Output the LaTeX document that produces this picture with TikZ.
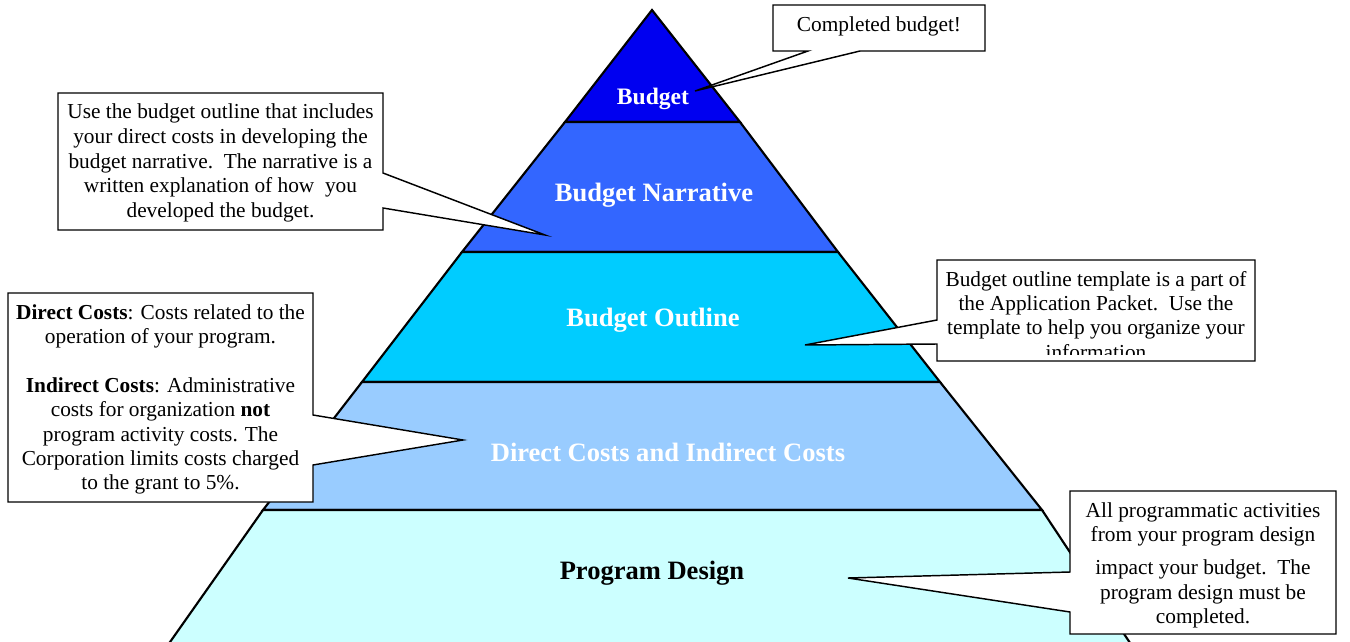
\documentclass[tikz,border=0pt]{standalone}
\usepackage{fontspec}
\setmainfont{Liberation Serif}
\definecolor{layA}{RGB}{0,0,240}
\definecolor{layB}{RGB}{51,102,255}
\definecolor{layC}{RGB}{0,204,255}
\definecolor{layD}{RGB}{153,204,255}
\definecolor{layE}{RGB}{204,255,255}
\begin{document}
\begin{tikzpicture}[x=0.75pt,y=-0.75pt,
  layer/.style={draw=black,line width=1.6pt,line join=miter},
  callout/.style={draw=black,fill=white,line width=1.1pt,line join=miter},
  lbl/.style={font=\fontsize{19.9}{24}\selectfont\bfseries,text=white,inner sep=0pt},
  note/.style={font=\fontsize{16}{18.4}\selectfont,align=center,inner sep=0pt}]
\useasboundingbox (0,0) rectangle (1350,642);
\clip (0,0) rectangle (1350,642);
% pyramid layers
\filldraw[layer,fill=layA] (652,10) -- (740,122) -- (565,122) -- cycle;
\filldraw[layer,fill=layB] (565,122) -- (740,122) -- (838,252) -- (462,252) -- cycle;
\filldraw[layer,fill=layC] (462,252) -- (838,252) -- (940,382) -- (362,382) -- cycle;
\filldraw[layer,fill=layD] (362,382) -- (940,382) -- (1042,510) -- (263,510) -- cycle;
\filldraw[layer,fill=layE] (263,510) -- (1042,510) -- (1136,652) -- (163,652) -- cycle;
% layer labels
\node[lbl,font=\fontsize{17.7}{21}\selectfont\bfseries] (lbudget) at (653,99) {Budget};
\node[lbl] (lnarr) at (654,195) {Budget Narrative};
\node[lbl] (loutl) at (653,320) {Budget Outline};
\node[lbl] (ldirect) at (668,452) {Direct Costs and Indirect Costs};
\node[lbl,text=black] (lprog) at (652,573) {Program Design};
% callout 1
\draw[callout] (773,5) -- (985,5) -- (985,51) -- (860,51) -- (695,91) -- (808,51) -- (773,51) -- cycle;
\node[note,anchor=base] (n1) at (879,32) {Completed budget!};
% callout 2
\draw[callout] (58,93) -- (383,93) -- (383,173) -- (545,235) -- (383,208) -- (383,230) -- (58,230) -- cycle;
\node[note,font=\fontsize{16}{18.6}\selectfont] (n2) at (220.5,163) {Use the budget outline that includes\\your direct costs in developing the\\budget narrative.\ \ The narrative is a\\written explanation of how\ \ you\\developed the budget.};
% callout 3
\draw[callout] (8,293) -- (313,293) -- (313,415) -- (463,440) -- (313,465) -- (313,502) -- (8,502) -- cycle;
\node[note,font=\fontsize{16}{18.2}\selectfont] (n3) at (160.5,399.5) {\textbf{Direct Costs}: Costs related to the\\operation of your program.\\[18.2pt]\textbf{Indirect Costs}: Administrative\\costs for organization \textbf{not}\\program activity costs. The\\Corporation limits costs charged\\to the grant to 5\%.};
% callout 4
\draw[callout] (937,260) -- (1255,260) -- (1255,361) -- (937,361) -- (937,344) -- (805,345) -- (937,320) -- cycle;
\begin{scope}
\clip (938,261) rectangle (1254,354);
\node[note,anchor=north,font=\fontsize{16}{18.2}\selectfont] (n4) at (1096,271) {Budget outline template is a part of\\the Application Packet.\ \ Use the\\template to help you organize your\\information};
\end{scope}
% callout 5
\draw[callout] (1070,491) -- (1336,491) -- (1336,634) -- (1070,634) -- (1070,612) -- (848,578) -- (1070,572) -- cycle;
\node[note,anchor=north] (n5) at (1203,502) {All programmatic activities\\from your program design\\[6.5pt]impact your budget.\ \ The\\program design must be\\completed.};
\end{tikzpicture}
\end{document}
